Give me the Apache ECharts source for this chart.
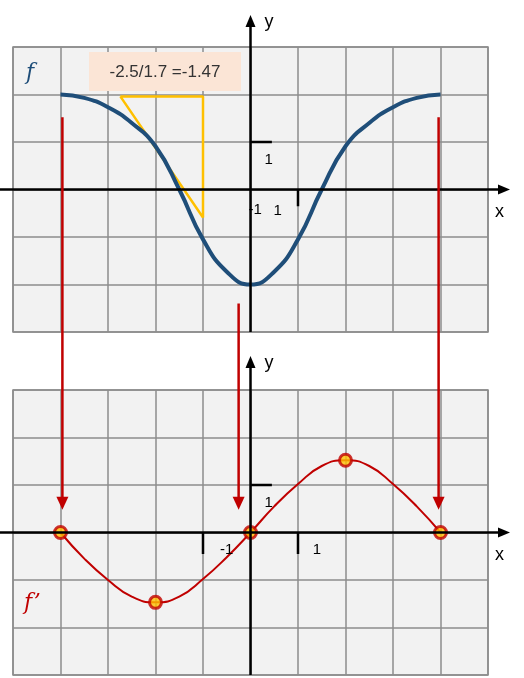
<!DOCTYPE html><html><head><meta charset="utf-8"><script src="https://cdn.jsdelivr.net/npm/echarts@6/dist/echarts.min.js"></script>
<style>html,body{margin:0;background:#fff}#c{width:524px;height:678px}</style></head><body><div id="c"></div>
<script>
const fX=[-4,-3.5,-3,-2.5,-2,-1.5,-1,-0.5,0,0.5,1,1.5,2,2.5,3,3.5,4];
const fY=[2,1.93,1.73,1.4,0.91,0,-1.05,-1.73,-2,-1.73,-1.05,0,0.91,1.4,1.73,1.93,2];
const dX=[-4,-3.5,-3,-2.5,-2,-1.5,-1,-0.5,0,0.5,1,1.5,2,2.5,3,3.5,4];
const dY=[0,-0.55,-1.0,-1.35,-1.47,-1.35,-0.98,-0.52,0,0.55,1.02,1.4,1.52,1.4,1.02,0.55,0];
const keyX=[-4,-2,0,2,4];
const keyY=[0,-1.47,0,1.52,0];
const triangle=[[-2.74,1.96],[-1,1.96],[-1,-0.59],[-2.74,1.96]];
const slopeLabel='-2.5/1.7 =-1.47';
const chart=echarts.init(document.getElementById('c'));
const gridStyle={show:true,backgroundColor:'#f2f2f2',borderColor:'#8c8c8c',borderWidth:1.5};
const xa=i=>({gridIndex:i,type:'value',min:-5,max:5,interval:1,axisLine:{show:false},axisTick:{show:false},axisLabel:{show:false},splitLine:{lineStyle:{color:'#8c8c8c',width:1.5}}});
const ya=i=>({gridIndex:i,type:'value',min:-3,max:3,interval:1,axisLine:{show:false},axisTick:{show:false},axisLabel:{show:false},splitLine:{lineStyle:{color:'#8c8c8c',width:1.5}}});
const blk={color:'#000',width:2.5};
const seg=(i,pts)=>({type:'line',xAxisIndex:i,yAxisIndex:i,data:pts,symbol:'none',lineStyle:blk,silent:true,z:3});
chart.setOption({animation:false,
grid:[Object.assign({left:13,top:47,width:475,height:285},gridStyle),Object.assign({left:13,top:390,width:475,height:285},gridStyle)],
xAxis:[xa(0),xa(1)],yAxis:[ya(0),ya(1)],
series:[
seg(0,[[0,1],[0.45,1]]),seg(0,[[1,0],[1,-0.35]]),
seg(1,[[0,1],[0.45,1]]),seg(1,[[1,0],[1,-0.45]]),seg(1,[[-1,0],[-1,-0.45]]),
{type:'line',xAxisIndex:0,yAxisIndex:0,data:triangle,symbol:'none',lineStyle:{color:'#ffc000',width:2.5},z:4},
{type:'line',xAxisIndex:0,yAxisIndex:0,data:fX.map((x,i)=>[x,fY[i]]),smooth:0.5,symbol:'none',lineStyle:{color:'#1f4e79',width:4},z:5},
{type:'line',xAxisIndex:1,yAxisIndex:1,data:dX.map((x,i)=>[x,dY[i]]),smooth:0.5,symbol:'none',lineStyle:{color:'#c00000',width:2},z:5},
{type:'scatter',xAxisIndex:1,yAxisIndex:1,data:keyX.map((x,i)=>[x,keyY[i]]),symbolSize:12,itemStyle:{color:'#ffc000',borderColor:'#c00000',borderWidth:3},z:6}
]});
const P=(i,x,y)=>chart.convertToPixel({gridIndex:i},[x,y]);
const g=[];
function axes(i){
 const o=P(i,0,0), top=P(i,0,3)[1];
 g.push({type:'line',shape:{x1:0,y1:o[1],x2:500,y2:o[1]},style:{stroke:'#000',lineWidth:2.5},z:10});
 g.push({type:'polygon',shape:{points:[[510,o[1]],[498,o[1]-5],[498,o[1]+5]]},style:{fill:'#000'},z:10});
 const yb=i===0?332:675, yt=i===0?15:356;
 g.push({type:'line',shape:{x1:o[0],y1:i===0?332:675,x2:o[0],y2:yt+8},style:{stroke:'#000',lineWidth:2.5},z:10});
 g.push({type:'polygon',shape:{points:[[o[0],yt],[o[0]-5,yt+12],[o[0]+5,yt+12]]},style:{fill:'#000'},z:10});
 g.push({type:'text',x:495,y:o[1]+14,style:{text:'x',font:'18px "Liberation Sans"',fill:'#000'},z:10});
 g.push({type:'text',x:o[0]+14,y:yt-2,style:{text:'y',font:'18px "Liberation Sans"',fill:'#000'},z:10});
}
axes(0);axes(1);
const txt=(i,x,y,t)=>{const p=P(i,x,y);g.push({type:'text',x:p[0],y:p[1],style:{text:t,font:'15px "Liberation Sans"',fill:'#000',align:'center',verticalAlign:'middle'},z:10});};
txt(0,0.38,0.63,'1');txt(0,0.1,-0.42,'-1');txt(0,0.57,-0.45,'1');
txt(1,0.38,0.63,'1');txt(1,-0.5,-0.36,'-1');txt(1,1.4,-0.36,'1');
function arrow(x,yTop,yBot){
 g.push({type:'line',shape:{x1:x,y1:yTop,x2:x,y2:yBot-10},style:{stroke:'#c00000',lineWidth:2.5},z:11});
 g.push({type:'polygon',shape:{points:[[x,yBot],[x-6,yBot-13],[x+6,yBot-13]]},style:{fill:'#c00000'},z:11});
}
const yb=P(1,0,0.48)[1];
arrow(P(0,-3.96,0)[0],P(0,0,1.52)[1],yb);
arrow(P(0,-0.25,0)[0],P(0,0,-2.4)[1],yb);
arrow(P(0,3.96,0)[0],P(0,0,1.52)[1],yb);
g.push({type:'rect',shape:{x:89,y:52,width:152,height:39},style:{fill:'#fbe5d6'},z:9});
g.push({type:'text',x:165,y:72,style:{text:slopeLabel,font:'17px "Liberation Sans"',fill:'#333',align:'center',verticalAlign:'middle'},z:10});
g.push({type:'text',x:26,y:62,style:{text:'f',font:'italic 22px "DejaVu Serif"',fill:'#1f4e79'},z:10});
g.push({type:'text',x:24,y:592,style:{text:'f’',font:'italic 22px "DejaVu Serif"',fill:'#c00000'},z:10});
chart.setOption({graphic:g});
</script></body></html>
